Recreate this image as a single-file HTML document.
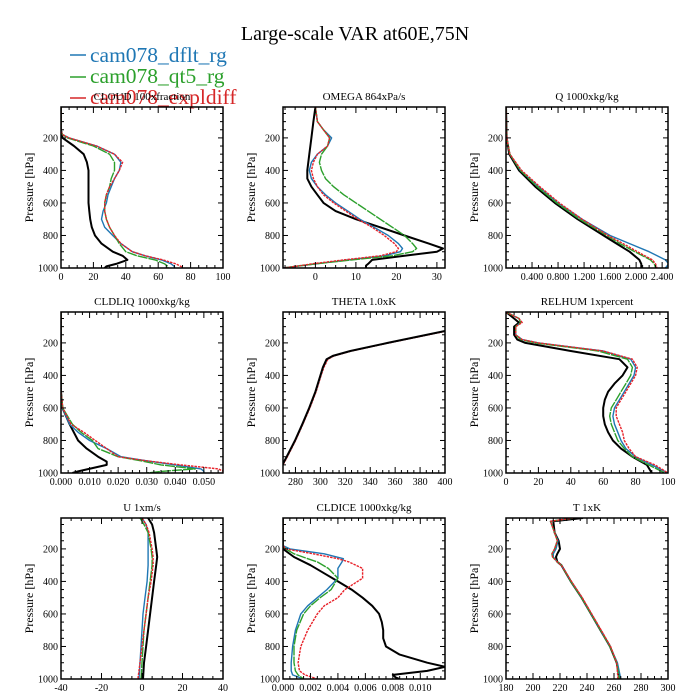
<!DOCTYPE html>
<html><head><meta charset="utf-8"><style>
body{margin:0;background:#fff;}
svg{display:block;font-family:"Liberation Serif",serif;}
</style></head><body>
<svg id="chart" width="700" height="700">
<text x="355" y="40" font-size="20" text-anchor="middle">Large-scale VAR at60E,75N</text>
<g>
<g><line x1="70" y1="55" x2="86" y2="55" stroke="#1f77b4" stroke-width="1.5"/><text x="90" y="62" font-size="21.5" fill="#1f77b4">cam078_dflt_rg</text></g>
<g><line x1="70" y1="77" x2="86" y2="77" stroke="#2ca02c" stroke-width="1.5"/><text x="90" y="83" font-size="21.5" fill="#2ca02c">cam078_qt5_rg</text></g>
<g><line x1="70" y1="98" x2="86" y2="98" stroke="#d62728" stroke-width="1.5"/><text x="90" y="104" font-size="21.5" fill="#d62728">cam078_expldiff</text></g>
</g>
</svg>
<script>
// ---- data (pressure levels in hPa and values) ----
const cloudP_k=[10,150,200,250,300,350,400,600,650,700,750,800,850,900,925,950,975,990,1000];
const cloudV_k=[0,0,1,8,14,16,17,17,17.5,18,19,21,25,32,38,41,34,28,27];
const cloudP_b=[10,160,180,200,250,300,350,400,450,500,550,600,650,700,750,800,850,900,925,950,975,990,1000];
const cloudV_b=[0,0,1,5,22,33,37,36,33,31,29,28,26,25,27,32,37,44,52,62,68,70,70];
const cloudV_g=[0,0,1,4,20,30,33,33,31,30,28,27,27,28,30,33,36,40,47,58,64,66,66];
const cloudV_r=[0,0,1,5,22,33,38,36,33,30,28,27,27,28,30,33,37,44,52,63,71,74,75];

const omegaP_k=[10,100,200,300,400,450,500,550,600,650,700,750,800,850,880,900,925,950,975,985,990,1000];
const omegaV_k=[0,-0.5,-1,-1.5,-2,-2,-1,0.5,2,5,10,16,22,28,31.5,30,22,14,13,12.5,12.5,12.5];
const omegaP_c=[10,100,150,200,250,300,350,400,450,500,550,600,650,700,750,800,850,880,900,925,950,975,990,1000];
const omegaV_b=[0,0.5,2,4,3,0.5,-1,-1.5,-1,0.5,2.5,5,8,11,14.5,18,20.5,21.5,21,17,8,0,-5,-8];
const omegaV_g=[0,0.5,2,3.5,3,1.5,1,1.5,2.5,4.5,7,10,13,16,19,22,24,25,24,19,9,0,-5,-8];
const omegaV_r=[0,0.5,2,3.5,3,0.5,-0.5,-1,-0.5,0.5,2,4.5,7.5,10.5,14,17,19.5,20.5,20,16,7,-1,-5,-8];

const qP=[10,200,300,400,500,600,700,800,850,900,950,975,1000];
const qV_k=[0,0.01,0.05,0.2,0.45,0.75,1.1,1.5,1.7,1.9,2.05,2.08,2.08];
const qV_b=[0,0.01,0.06,0.22,0.5,0.8,1.17,1.6,1.9,2.2,2.45,2.5,2.45];
const qV_g=[0,0.01,0.06,0.22,0.48,0.78,1.13,1.55,1.75,1.98,2.22,2.28,2.3];
const qV_r=[0,0.01,0.06,0.24,0.52,0.82,1.17,1.57,1.8,2.02,2.25,2.3,2.32];

const liqP_k=[10,500,600,700,800,850,900,930,950,970,990,1000];
const liqV_k=[0,0,0.0005,0.003,0.006,0.009,0.013,0.016,0.016,0.011,0.006,0.004];
const liqP_c=[10,500,600,700,750,800,850,900,925,950,975,990,1000];
const liqV_b=[0,0,0.0005,0.003,0.006,0.01,0.016,0.021,0.03,0.04,0.049,0.05,0.05];
const liqV_g=[0,0,0.0006,0.004,0.007,0.011,0.013,0.02,0.028,0.035,0.047,0.035,0.03];
const liqV_r=[0,0,0.0006,0.0035,0.008,0.012,0.016,0.02,0.03,0.042,0.055,0.057,0.057];

const thP=[127,200,250,280,300,350,400,500,600,700,800,900,1000];
const thV_k=[400,354,324,310,305,302,300,296,291,285.5,279.6,273,266];
const thV_b=[401,354.5,324.5,310.5,305.5,302.3,300.3,296.3,291.3,285.8,279.9,273.3,266.3];
const thV_g=[400.5,354.3,324.3,310.3,305.3,302.2,300.2,296.2,291.2,285.7,279.8,273.2,266.2];
const thV_r=[401.5,355,325,311,306,302.8,300.6,296.6,291.6,286,280.1,273.5,266.5];

const rhP=[10,50,75,100,150,180,200,250,300,350,400,450,500,550,600,650,700,750,800,850,900,950,1000];
const rhV_k=[0,5,8,5,5,7,12,40,70,75,72,67,63,61,60,60,61,63,66,71,78,87,90];
const rhV_b=[0,8,9,6,6,10,20,60,77,80,79,76,73,70,67,66,67,69,71,74,80,90,100];
const rhV_g=[0,8,9,6,6,9,18,57,75,78,77,74,71,68,65,64,65,67,69,73,78,88,98];
const rhV_r=[0,8,10,6,6,10,20,60,78,81,80,77,74,71,68,68,70,72,73,76,80,92,100];

const uP=[10,50,100,200,250,300,400,500,600,700,800,900,1000];
const uV_k=[3,5,6,7,7.5,7,6,5,4,3,2,1,0.5];
const uV_b=[0,2,3,3,3,3,2.5,1.5,0.5,0,-0.5,-1,-1.5];
const uV_g=[-1,1,3,4.5,5,5,4,3,2,1,0.5,0,-0.5];
const uV_r=[0,2,3.5,5,5.5,5.5,4.5,3,2,1,0,-1,-2];

const iceP_k=[10,200,250,300,350,400,450,500,550,600,650,700,750,800,850,900,925,950,975,990,1000];
const iceV_k=[0,0,0.0008,0.002,0.003,0.004,0.005,0.0058,0.0065,0.007,0.0072,0.0073,0.0073,0.0075,0.0085,0.0105,0.0118,0.0105,0.008,0.0082,0.0085];
const iceP_c=[10,180,200,230,260,280,320,380,450,500,550,600,700,800,900,950,975,1000];
const iceV_b=[0,0,0.0005,0.003,0.0044,0.0043,0.004,0.004,0.0032,0.0025,0.0018,0.0013,0.0009,0.0007,0.0006,0.0006,0.0007,0.0015];
const iceV_g=[0,0,0.0002,0.0008,0.0018,0.0025,0.0033,0.004,0.0035,0.0027,0.002,0.0015,0.001,0.0008,0.0008,0.0009,0.0011,0.0015];
const iceV_r=[0,0,0.0002,0.0022,0.004,0.0048,0.0058,0.0058,0.0045,0.004,0.003,0.0025,0.0018,0.0013,0.0011,0.0012,0.0016,0.0025];

const tP=[10,30,100,150,200,230,250,280,300,400,500,600,700,800,900,1000];
const tV_k=[237,215,216,219,220,218,217,218,221,228,236,243,250,257,262,264];
const tV_b=[230,213,216,218.5,217,215,215,218,221,228,236,243,250,257,262.5,265];
const tV_g=[230,213,216,218,216,214,214.5,218,221,228,236,243,250,257,262,264];
const tV_r=[230,213,216,218,216,214,214.5,218,221,228.5,236.5,243.5,250.5,257.5,262,263];

const panels=[
 {name:'cloud',title:'CLOUD  100xfraction',x0:0,x1:100,ticks:[0,20,40,60,80,100],labels:['0','20','40','60','80','100'],minor:5,col:0,row:0,
  series:[[cloudP_k,cloudV_k,'k'],[cloudP_b,cloudV_b,'b'],[cloudP_b,cloudV_g,'g'],[cloudP_b,cloudV_r,'r']]},
 {name:'omega',title:'OMEGA  864xPa/s',x0:-8,x1:32,ticks:[0,10,20,30],labels:['0','10','20','30'],minor:2.5,col:1,row:0,
  series:[[omegaP_k,omegaV_k,'k'],[omegaP_c,omegaV_b,'b'],[omegaP_c,omegaV_g,'g'],[omegaP_c,omegaV_r,'r']]},
 {name:'q',title:'Q  1000xkg/kg',x0:0,x1:2.49,ticks:[0.4,0.8,1.2,1.6,2.0,2.4],labels:['0.400','0.800','1.200','1.600','2.000','2.400'],minor:0.1,col:2,row:0,
  series:[[qP,qV_k,'k'],[qP,qV_b,'b'],[qP,qV_g,'g'],[qP,qV_r,'r']]},
 {name:'cldliq',title:'CLDLIQ  1000xkg/kg',x0:0,x1:0.0567,ticks:[0,0.01,0.02,0.03,0.04,0.05],labels:['0.000','0.010','0.020','0.030','0.040','0.050'],minor:0.0025,col:0,row:1,
  series:[[liqP_k,liqV_k,'k'],[liqP_c,liqV_b,'b'],[liqP_c,liqV_g,'g'],[liqP_c,liqV_r,'r']]},
 {name:'theta',title:'THETA  1.0xK',x0:270,x1:400,ticks:[280,300,320,340,360,380,400],labels:['280','300','320','340','360','380','400'],minor:5,col:1,row:1,
  series:[[thP,thV_b,'b'],[thP,thV_g,'g'],[thP,thV_r,'r'],[thP,thV_k,'k']]},
 {name:'relhum',title:'RELHUM  1xpercent',x0:0,x1:100,ticks:[0,20,40,60,80,100],labels:['0','20','40','60','80','100'],minor:5,col:2,row:1,
  series:[[rhP,rhV_k,'k'],[rhP,rhV_b,'b'],[rhP,rhV_g,'g'],[rhP,rhV_r,'r']]},
 {name:'u',title:'U  1xm/s',x0:-40,x1:40,ticks:[-40,-20,0,20,40],labels:['-40','-20','0','20','40'],minor:5,col:0,row:2,
  series:[[uP,uV_k,'k'],[uP,uV_b,'b'],[uP,uV_g,'g'],[uP,uV_r,'r']]},
 {name:'cldice',title:'CLDICE  1000xkg/kg',x0:0,x1:0.0118,ticks:[0,0.002,0.004,0.006,0.008,0.01],labels:['0.000','0.002','0.004','0.006','0.008','0.010'],minor:0.0005,col:1,row:2,
  series:[[iceP_k,iceV_k,'k'],[iceP_c,iceV_b,'b'],[iceP_c,iceV_g,'g'],[iceP_c,iceV_r,'r']]},
 {name:'t',title:'T  1xK',x0:180,x1:300,ticks:[180,200,220,240,260,280,300],labels:['180','200','220','240','260','280','300'],minor:5,col:2,row:2,
  series:[[tP,tV_k,'k'],[tP,tV_b,'b'],[tP,tV_g,'g'],[tP,tV_r,'r']]}
];
const yTicks=[200,400,600,800,1000];
const colors={k:'#000',b:'#1f77b4',g:'#2ca02c',r:'#e8222a'};
const NS='http://www.w3.org/2000/svg';
const svg=document.getElementById('chart');
const colX=[61,283,506], rowY=[107,312,518], W=162, H=161, P0=10, P1=1000;
function mk(tag,attrs,parent){const e=document.createElementNS(NS,tag);for(const k in attrs)e.setAttribute(k,attrs[k]);parent.appendChild(e);return e;}
panels.forEach(pn=>{
  const L=colX[pn.col], T=rowY[pn.row], R=L+W, B=T+H;
  const xs=v=>L+(v-pn.x0)/(pn.x1-pn.x0)*W;
  const ys=p=>T+(p-P0)/(P1-P0)*H;
  const g=mk('g',{},svg);
  
  
  const tt=mk('text',{x:(L+R)/2,y:T-7,'font-size':11,'text-anchor':'middle'},g);
  tt.textContent=pn.title;
  
  
  const yl=mk('text',{x:0,y:0,'font-size':12,'text-anchor':'middle',transform:`translate(${L-28},${(T+B)/2}) rotate(-90)`},g);
  yl.textContent='Pressure [hPa]';
  
  
  const cp='clip-'+pn.name;
  const cpe=mk('clipPath',{id:cp},g);mk('rect',{x:L,y:T,width:W,height:H},cpe);
  const lines=mk('g',{'clip-path':`url(#${cp})`},g);
  pn.series.forEach(s=>{
    const [P,V,c]=s;
    const pts=P.map((p,i)=>xs(V[i]).toFixed(1)+','+ys(p).toFixed(1)).join(' ');
    const pl=mk('polyline',{points:pts,fill:'none',stroke:colors[c],'stroke-width':c==='k'?2:1.4,'stroke-linejoin':'round'},lines);
    if(c==='r')pl.setAttribute('stroke-dasharray','2.5,1');
    if(c==='g')pl.setAttribute('stroke-dasharray','10,1');
    
    
  });
  const fr=mk('rect',{x:L,y:T,width:W,height:H,fill:'none',stroke:'#000','stroke-width':1.5},g);
  
  
  for(let p=50;p<=1000;p+=50){
    const y=ys(p), maj=p%200===0, len=maj?5:3;
    mk('line',{x1:L,y1:y,x2:L+len,y2:y,stroke:'#000','stroke-width':1},g);
    mk('line',{x1:R,y1:y,x2:R-len,y2:y,stroke:'#000','stroke-width':1},g);
  }
  yTicks.forEach(p=>{const t=mk('text',{x:L-3,y:ys(p)+3.5,'font-size':10,'text-anchor':'end'},g);t.textContent=String(p);
    
    });
  const step=pn.minor, start=Math.ceil(pn.x0/step-1e-6);
  for(let i=start;i*step<=pn.x1+1e-9;i++){
    const v=i*step, x=xs(v);
    const maj=pn.ticks.some(t=>Math.abs(t-v)<step/10);
    const len=maj?6:3;
    mk('line',{x1:x,y1:B,x2:x,y2:B-len,stroke:'#000','stroke-width':1},g);
    mk('line',{x1:x,y1:T,x2:x,y2:T+len,stroke:'#000','stroke-width':1},g);
  }
  pn.ticks.forEach((v,i)=>{const t=mk('text',{x:xs(v),y:B+12,'font-size':10,'text-anchor':'middle'},g);t.textContent=pn.labels[i];
    
    });
});
</script>
</body></html>
